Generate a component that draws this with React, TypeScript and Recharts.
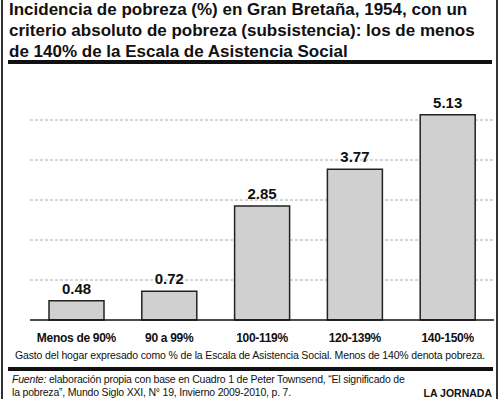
import { Bar, BarChart, CartesianGrid, LabelList, XAxis, YAxis } from 'recharts'

const categories = ['Menos de 90%', '90 a 99%', '100-119%', '120-139%', '140-150%']
const incidence = [0.48, 0.72, 2.85, 3.77, 5.13]
const gridTicks = [1, 2, 3, 4, 5]

const titleLines = [
  'Incidencia de pobreza (%) en Gran Bretaña, 1954, con un',
  'criterio absoluto de pobreza (subsistencia): los de menos',
  'de 140% de la Escala de Asistencia Social',
]

const data = categories.map((name, i) => ({ name, value: incidence[i] }))

const font = '"Liberation Sans", Arial, Helvetica, sans-serif'

export default function App() {
  return (
    <div
      style={{
        position: 'absolute',
        left: 0,
        top: 0,
        width: 500,
        height: 399,
        background: '#fff',
        fontFamily: font,
        color: '#111',
        overflow: 'hidden',
      }}
    >
      <div style={{ position: 'absolute', left: 1, top: 0, width: 2, height: 399, background: '#333' }} />
      <div style={{ position: 'absolute', left: 496, top: 0, width: 2, height: 399, background: '#333' }} />

      <div
        style={{
          position: 'absolute',
          left: 9,
          top: -1,
          fontSize: 17,
          fontWeight: 'bold',
          lineHeight: '21px',
          whiteSpace: 'nowrap',
        }}
      >
        {titleLines.map((t) => (
          <div key={t}>{t}</div>
        ))}
      </div>
      <div style={{ position: 'absolute', left: 8, top: 60, width: 484, height: 4, background: '#111' }} />

      <div style={{ position: 'absolute', left: 0, top: 0 }}>
        <BarChart
          width={500}
          height={399}
          data={data}
          margin={{ top: 80, right: 6, bottom: 49, left: 30 }}
        >
          <CartesianGrid
            vertical={false}
            horizontalValues={gridTicks}
            stroke='#aaa'
            strokeDasharray='3 2'
          />
          <YAxis hide domain={[0, 6]} ticks={gridTicks} />
          <XAxis
            dataKey='name'
            height={30}
            tickLine={false}
            axisLine={{ stroke: '#111', strokeWidth: 1.5 }}
            tick={{ fill: '#111', fontSize: 12, fontWeight: 'bold', fontFamily: font, letterSpacing: -0.3 }}
            tickMargin={7}
            interval={0}
          />
          <Bar
            dataKey='value'
            barSize={55}
            fill='#d0d0d0'
            stroke='#222'
            strokeWidth={1.5}
            isAnimationActive={false}
          >
            <LabelList
              dataKey='value'
              position='top'
              offset={7}
              fill='#111'
              fontSize={15}
              fontWeight='bold'
              fontFamily={font}
              formatter={(v: number) => v.toFixed(2)}
            />
          </Bar>
        </BarChart>
      </div>

      <div
        style={{
          position: 'absolute',
          left: 0,
          width: 500,
          top: 349,
          textAlign: 'center',
          fontSize: 10.5,
          letterSpacing: -0.15,
          whiteSpace: 'nowrap',
        }}
      >
        Gasto del hogar expresado como % de la Escala de Asistencia Social. Menos de 140% denota pobreza.
      </div>
      <div style={{ position: 'absolute', left: 8, top: 367, width: 485, height: 4, background: '#111' }} />

      <div
        style={{
          position: 'absolute',
          left: 12,
          top: 373,
          fontSize: 10.5,
          letterSpacing: -0.2,
          lineHeight: '13px',
          whiteSpace: 'nowrap',
        }}
      >
        <div>
          <i>Fuente:</i> elaboración propia con base en Cuadro 1 de Peter Townsend, “El significado de
        </div>
        <div>la pobreza”, Mundo Siglo XXI, N° 19, Invierno 2009-2010, p. 7.</div>
      </div>
      <div
        style={{
          position: 'absolute',
          right: 8,
          top: 387,
          fontSize: 10.5,
          fontWeight: 'bold',
          lineHeight: '13px',
        }}
      >
        LA JORNADA
      </div>
    </div>
  )
}
